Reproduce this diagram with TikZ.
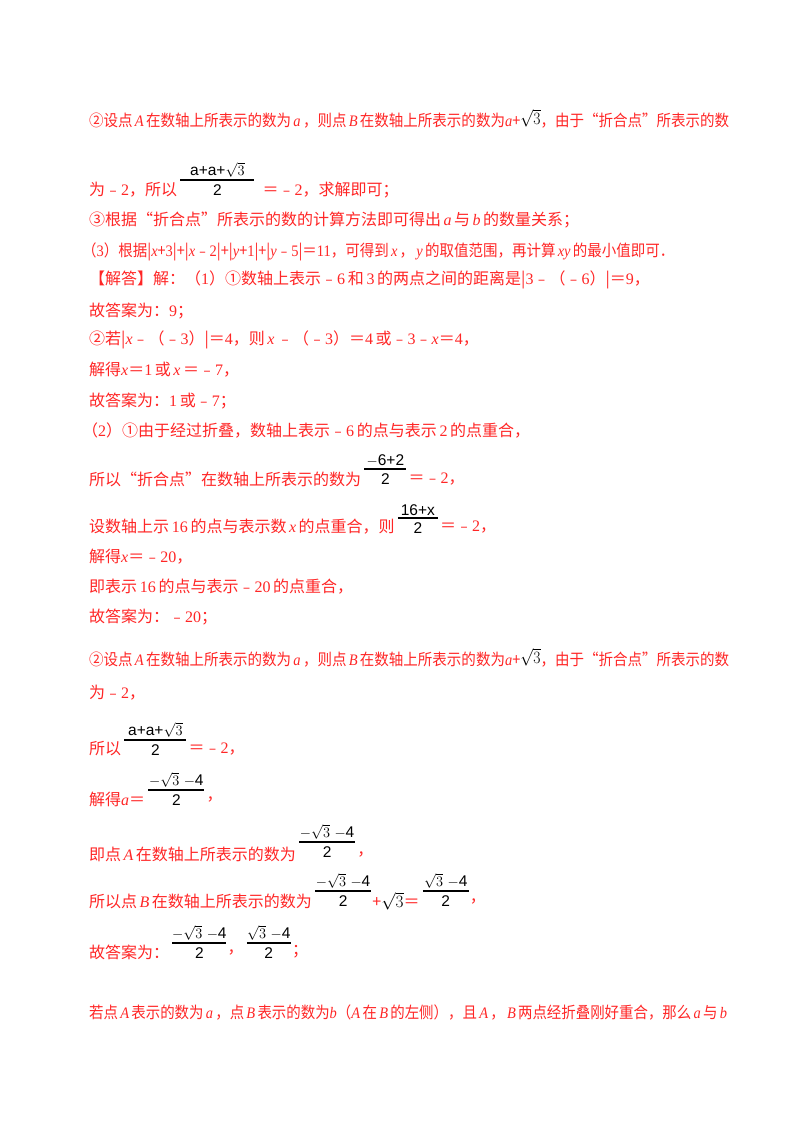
\documentclass[tikz,border=0pt]{standalone}
\usepackage{fontspec}
\setmainfont{Noto Sans CJK SC}
\newfontfamily\lt{Liberation Serif}
\newfontfamily\fs{Liberation Sans}
\newcommand{\mi}[1]{{\lt\itshape\kern2.5pt #1\kern2.5pt}}
\newcommand{\mj}[1]{{\lt\itshape #1}}
\newcommand{\nm}[1]{{\lt #1}}
\newcommand{\rt}{\raisebox{2pt}{\fontsize{18}{18}\selectfont\color{black}\fs$\sqrt{3}$}}
\tikzset{ln/.style={anchor=west,inner sep=0pt,text=red!85!white,font=\fontsize{16}{16}\selectfont},
 fn/.style={inner sep=0pt,font=\fs\fontsize{15.5}{15.5}\selectfont,text=black}}
% \frc{name}{prev}{width}{ybar}{num}{den}
\newcommand{\frc}[6]{%
 \path (#2.east) ++(3,0) coordinate (#1a);
 \path (#1a |- 0,-#4) coordinate (#1l) ++(#3,0) coordinate (#1r) ++(-#3/2,0) coordinate (#1m);
 \draw[line width=1.2pt] (#1l) -- (#1r);
 \node[fn,anchor=south] (#1n) at ([yshift=2pt]#1m) {#5};
 \node[fn,anchor=north] (#1d) at ([yshift=-4pt]#1m) {#6};}
\begin{document}
\begin{tikzpicture}[x=1pt,y=1pt]
\useasboundingbox[fill=white] (0,0) rectangle (800,-1132);
\node[ln] (l1) at (89,-119) {\resizebox{640pt}{\height}{②设点\mi{A}在数轴上所表示的数为\mi{a}，则点\mi{B}在数轴上所表示的数为\mj{a}+\rt，由于“折合点”所表示的数}};
\node[ln] (l2) at (89,-190) {为﹣\nm{2}，所以};
\frc{f1}{l2}{74}{180}{a+a+$\sqrt{3}$}{2}
\node[ln] (l2b) at ([xshift=8pt]f1r |- l2) {＝﹣\nm{2}，求解即可；};
\node[ln] (l3) at (89,-220) {③根据“折合点”所表示的数的计算方法即可得出\mi{a}与\mi{b}的数量关系；};
\node[ln] (l4) at (82,-252) {\resizebox{592pt}{\height}{（\nm{3}）根据|\mj{x}+\nm{3}|+|\mj{x}﹣\nm{2}|+|\mj{y}+\nm{1}|+|\mj{y}﹣\nm{5}|＝\nm{11}，可得到\mi{x}，\mi{y}的取值范围，再计算\mi{xy}的最小值即可．}};
\node[ln] (l5) at (89,-280) {【解答】解：（\nm{1}）①数轴上表示﹣\nm{6}\,和\,\nm{3}\,的两点之间的距离是|\nm{3}﹣（﹣\nm{6}）|＝\nm{9}，};
\node[ln] (l6) at (89,-311) {故答案为：\nm{9}；};
\node[ln] (l7) at (89,-340) {②若|\mj{x}﹣（﹣\nm{3}）|＝\nm{4}，则\mi{x}﹣（﹣\nm{3}）＝\nm{4}\,或﹣\nm{3}﹣\mj{x}＝\nm{4}，};
\node[ln] (l8) at (89,-370) {解得\mj{x}＝\nm{1}\,或\mi{x}＝﹣\nm{7}，};
\node[ln] (l9) at (89,-401) {故答案为：\nm{1}\,或﹣\nm{7}；};
\node[ln] (l10) at (82,-431) {（\nm{2}）①由于经过折叠，数轴上表示﹣\nm{6}\,的点与表示\,\nm{2}\,的点重合，};
\node[ln] (l11) at (89,-479) {所以“折合点”在数轴上所表示的数为};
\frc{f2}{l11}{42}{469}{$-$6+2}{2}
\node[ln] (l11b) at ([xshift=2pt]f2r |- l11) {＝﹣\nm{2}，};
\node[ln] (l12) at (89,-527) {设数轴上示\,\nm{16}\,的点与表示数\mi{x}的点重合，则};
\frc{f3}{l12}{40}{518}{16+x}{2}
\node[ln] (l12b) at ([xshift=2pt]f3r |- l12) {＝﹣\nm{2}，};
\node[ln] (l13) at (89,-557) {解得\mj{x}＝﹣\nm{20}，};
\node[ln] (l14) at (89,-587) {即表示\,\nm{16}\,的点与表示﹣\nm{20}\,的点重合，};
\node[ln] (l15) at (89,-617) {故答案为：﹣\nm{20}；};
\node[ln] (l16) at (89,-658) {\resizebox{640pt}{\height}{②设点\mi{A}在数轴上所表示的数为\mi{a}，则点\mi{B}在数轴上所表示的数为\mj{a}+\rt，由于“折合点”所表示的数}};
\node[ln] (l17) at (89,-693) {为﹣\nm{2}，};
\node[ln] (l18) at (89,-749) {所以};
\frc{f4}{l18}{62}{740}{a+a+$\sqrt{3}$}{2}
\node[ln] (l18b) at ([xshift=2pt]f4r |- l18) {＝﹣\nm{2}，};
\node[ln] (l19) at (89,-799) {解得\mj{a}＝};
\frc{f5}{l19}{56}{790}{$-\sqrt{3}$ $-$4}{2}
\node[ln] (l19b) at ([xshift=2pt]f5r |- l19) {，};
\node[ln] (l20) at (89,-854) {即点\mi{A}在数轴上所表示的数为};
\frc{f6}{l20}{56}{842}{$-\sqrt{3}$ $-$4}{2}
\node[ln] (l20b) at ([xshift=2pt]f6r |- l20) {，};
\node[ln] (l21) at (89,-901) {所以点\mi{B}在数轴上所表示的数为};
\frc{f7}{l21}{56}{891}{$-\sqrt{3}$ $-$4}{2}
\node[ln] (l21b) at ([xshift=1pt]f7r |- l21) {+\textcolor{black}{\fs$\sqrt{3}$}＝};
\frc{f8}{l21b}{46}{891}{$\sqrt{3}$ $-$4}{2}
\node[ln] (l21c) at ([xshift=1pt]f8r |- l21) {，};
\node[ln] (l22) at (89,-952) {故答案为：};
\frc{f9}{l22}{54}{943}{$-\sqrt{3}$ $-$4}{2}
\node[ln] (l22b) at ([xshift=1pt]f9r |- l22) {，};
\frc{f10}{l22b}{44}{943}{$\sqrt{3}$ $-$4}{2}
\node[ln] (l22c) at ([xshift=1pt]f10r |- l22) {；};
\node[ln] (l23) at (89,-1012) {\resizebox{640pt}{\height}{若点\mi{A}表示的数为\mi{a}，点\mi{B}表示的数为\mj{b}（\mj{A}\,在\mi{B}的左侧），且\mi{A}，\mi{B}两点经折叠刚好重合，那么\mi{a}与\mi{b}}};
\end{tikzpicture}
\end{document}
